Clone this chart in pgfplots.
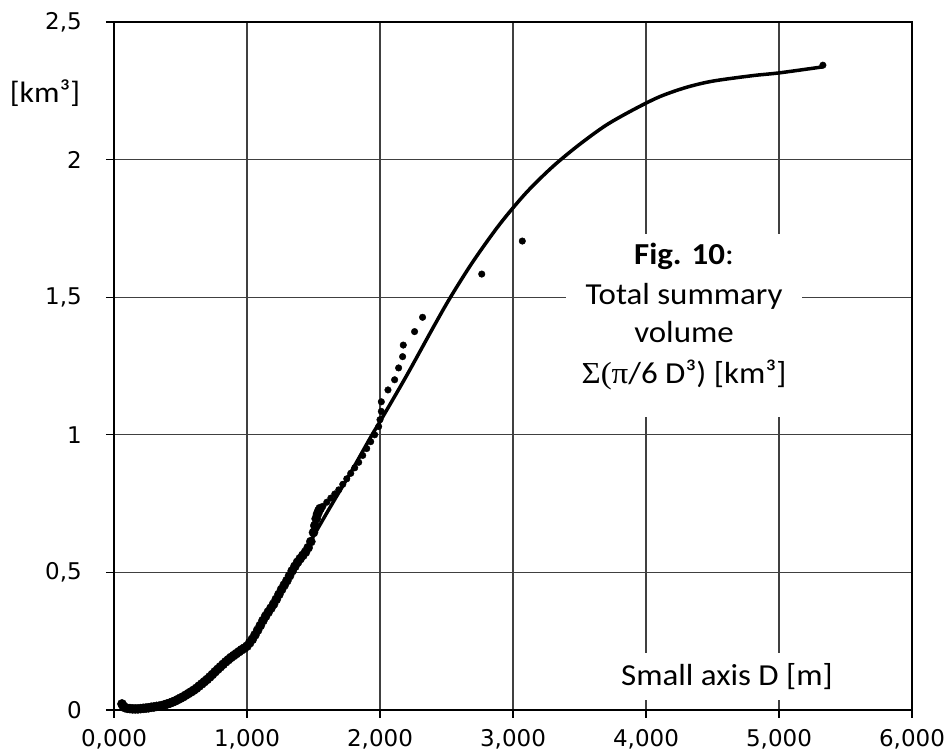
\documentclass[border=0pt]{standalone}
\usepackage{pgfplots}
\pgfplotsset{compat=1.18}
\usepackage{fontspec}
\setmainfont{Carlito}[FakeStretch=1.08]
\newfontfamily\tickfont{DejaVu Sans}
\newfontfamily\symfont{Liberation Serif}[FakeStretch=1.08]

\pgfplotstableread{
x y
0.08 0.004
0.20 0.004
0.30 0.009
0.40 0.021
0.50 0.042
0.60 0.070
0.70 0.107
0.80 0.154
0.90 0.198
1.00 0.240
1.10 0.303
1.20 0.375
1.30 0.460
1.40 0.546
1.50 0.632
1.60 0.716
1.70 0.798
1.80 0.880
1.94 1.000
2.00 1.048
2.20 1.215
2.40 1.390
2.53 1.500
2.70 1.630
2.90 1.765
3.10 1.880
3.30 1.975
3.50 2.055
3.70 2.125
3.90 2.180
4.10 2.228
4.30 2.262
4.50 2.285
4.80 2.305
5.00 2.315
5.33 2.337
}\fitdata

\pgfplotstableread{
x y
0.06 0.022
0.07 0.014
0.08 0.009
0.10 0.006
0.12 0.005
0.14 0.004
0.16 0.004
0.18 0.004
0.20 0.005
0.22 0.006
0.24 0.007
0.26 0.008
0.28 0.010
0.30 0.011
0.32 0.013
0.34 0.014
0.36 0.016
0.38 0.019
0.40 0.022
0.42 0.025
0.44 0.029
0.46 0.033
0.48 0.038
0.50 0.043
0.52 0.048
0.54 0.054
0.56 0.060
0.58 0.066
0.60 0.072
0.62 0.079
0.64 0.087
0.66 0.095
0.68 0.103
0.70 0.111
0.72 0.120
0.74 0.129
0.76 0.139
0.78 0.148
0.80 0.157
0.82 0.166
0.84 0.175
0.86 0.183
0.88 0.191
0.90 0.198
0.92 0.205
0.94 0.212
0.96 0.219
0.98 0.225
1.00 0.232
1.02 0.244
1.04 0.257
1.06 0.273
1.08 0.290
1.10 0.307
1.12 0.325
1.14 0.341
1.16 0.356
1.18 0.370
1.20 0.385
1.22 0.402
1.24 0.420
1.26 0.438
1.28 0.454
1.30 0.470
1.32 0.488
1.34 0.506
1.36 0.522
1.38 0.537
1.40 0.550
1.42 0.562
1.44 0.574
1.46 0.590
1.48 0.612
1.50 0.645
1.51 0.670
1.52 0.695
1.53 0.712
1.54 0.724
1.55 0.732
}\densedata

\pgfplotstableread{
x y
1.57 0.740
1.60 0.755
1.63 0.770
1.66 0.785
1.69 0.800
1.72 0.820
1.75 0.840
1.78 0.860
1.81 0.880
1.84 0.900
1.87 0.925
1.90 0.950
1.93 0.975
1.96 1.000
1.99 1.030
2.00 1.055
2.01 1.085
2.01 1.120
2.06 1.163
2.11 1.200
2.14 1.243
2.17 1.284
2.175 1.326
2.26 1.375
2.32 1.427
2.765 1.584
3.07 1.704
5.33 2.343
}\sparsedata

\begin{document}
\begin{tikzpicture}
\path[use as bounding box] (0,0) rectangle (951pt,755pt);
\begin{axis}[
  at={(114pt,45pt)}, anchor=south west,
  scale only axis, width=798pt, height=688pt,
  xmin=0, xmax=6, ymin=0, ymax=2.5,
  xtick={0,1,2,3,4,5,6},
  xticklabels={{0,000},{1,000},{2,000},{3,000},{4,000},{5,000},{6,000}},
  ytick={0,0.5,1,1.5,2,2.5},
  yticklabels={{0},{0,5},{1},{1,5},{2},{2,5}},
  tick pos=left, tick align=outside,
  major tick length=8pt,
  tick style={black, line width=1.2pt},
  grid=major,
  major grid style={black!75, line width=1.1pt},
  axis line style={black, line width=1.3pt},
  tick label style={font=\tickfont\fontsize{23}{26}\selectfont, inner sep=0pt},
  yticklabel style={xshift=-24pt},
  xticklabel style={yshift=-11pt},
  clip=false,
]
\addplot[black, line width=3.5pt, smooth] table[x=x,y=y] {\fitdata};
\addplot[only marks, mark=*, mark size=4.6pt, black] table[x=x,y=y] {\densedata};
\addplot[only marks, mark=*, mark size=3.3pt, black] table[x=x,y=y] {\sparsedata};
\node[fill=white, minimum width=236pt, minimum height=183pt, inner sep=0pt] at (axis cs:4.286,1.397) {};
\node[fill=white, minimum width=220pt, minimum height=47pt, inner sep=0pt] at (axis cs:4.632,0.1217) {};
\node[anchor=base, inner sep=0pt, font=\fontsize{30.5}{34}\selectfont] at (axis cs:4.286,1.617) {\textbf{Fig. 10}:};
\node[anchor=base, inner sep=0pt, font=\fontsize{30.5}{34}\selectfont] at (axis cs:4.286,1.472) {Total summary};
\node[anchor=base, inner sep=0pt, font=\fontsize{30.5}{34}\selectfont] at (axis cs:4.286,1.334) {volume};
\node[anchor=base, inner sep=0pt, font=\fontsize{30.5}{34}\selectfont] at (axis cs:4.286,1.188) {{\symfont Σ(π}/6 D³) [km³]};
\node[anchor=base, inner sep=0pt, font=\fontsize{30.5}{34}\selectfont] at (axis cs:4.609,0.088) {Small axis D [m]};
\end{axis}
\node[font=\fontsize{29.5}{34}\selectfont, inner sep=0pt] at (45pt,662pt) {[km³]};
\end{tikzpicture}
\end{document}
